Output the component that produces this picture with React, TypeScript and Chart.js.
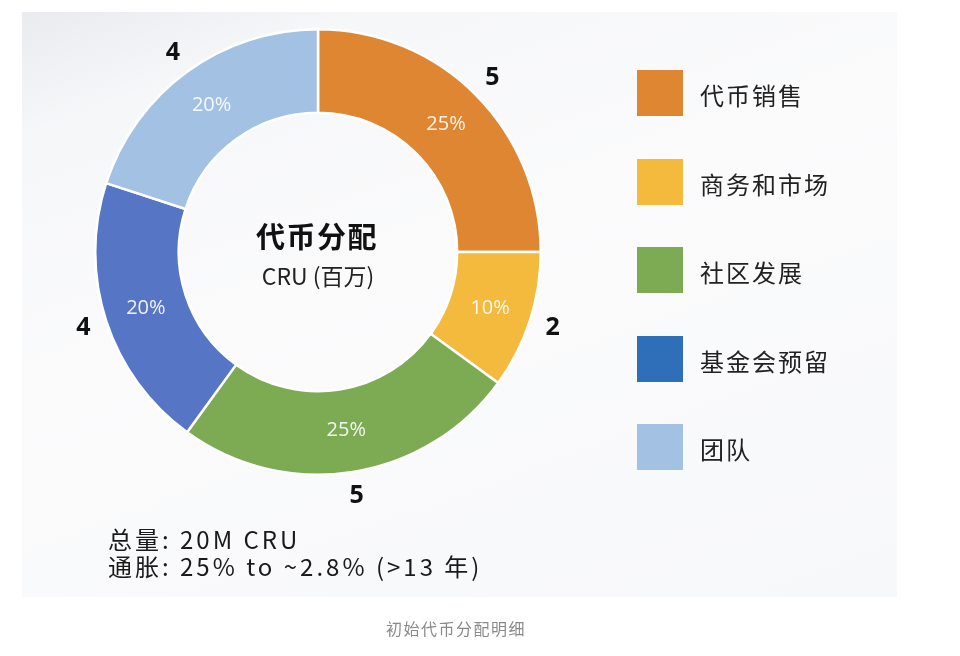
import React, { useEffect, useRef } from "react";
import { Chart, registerables } from "chart.js";

Chart.register(...registerables);

const categories = ["代币销售", "商务和市场", "社区发展", "基金会预留", "团队"];
const values = [5, 2, 5, 4, 4];
const sliceColors = ["#DF8633", "#F3BA3E", "#7CAB53", "#5775C5", "#A2C1E3"];
const legendColors = ["#DF8633", "#F3BA3E", "#7CAB53", "#2F6FBA", "#A2C1E3"];
const centerTitle = "代币分配";
const centerSub = "CRU (百万)";
const noteLines = ["总量: 20M CRU", "通胀: 25% to ~2.8% (>13 年)"];
const caption = "初始代币分配明细";

const CJK = "'Noto Sans CJK SC', 'Open Sans', sans-serif";

const labelPlugin = {
  id: "sliceLabels",
  afterDatasetsDraw(chart: any) {
    const ctx = chart.ctx as CanvasRenderingContext2D;
    const meta = chart.getDatasetMeta(0);
    const data = chart.data.datasets[0].data as number[];
    const total = data.reduce((a: number, b: number) => a + b, 0);
    meta.data.forEach((arc: any, i: number) => {
      const p = arc.getProps(["x", "y", "startAngle", "endAngle", "innerRadius", "outerRadius"], true);
      const mid = (p.startAngle + p.endAngle) / 2;
      const rIn = (p.innerRadius + p.outerRadius) / 2;
      ctx.save();
      ctx.textAlign = "center";
      ctx.textBaseline = "middle";
      ctx.fillStyle = "rgba(255,255,255,0.9)";
      ctx.font = "20px 'Open Sans'";
      ctx.fillText(
        Math.round((data[i] / total) * 100) + "%",
        p.x + Math.cos(mid) * rIn,
        p.y + Math.sin(mid) * rIn
      );
      const rOut = p.outerRadius + 24;
      ctx.fillStyle = "#111111";
      ctx.font = "bold 25px 'Open Sans'";
      ctx.fillText(String(data[i]), p.x + Math.cos(mid) * rOut, p.y + Math.sin(mid) * rOut);
      ctx.restore();
    });
  },
};

export default function App() {
  const canvasRef = useRef<HTMLCanvasElement | null>(null);

  useEffect(() => {
    const canvas = canvasRef.current;
    if (!canvas) return;
    const chart = new Chart(canvas, {
      type: "doughnut",
      data: {
        labels: categories,
        datasets: [
          {
            data: values,
            backgroundColor: sliceColors,
            borderColor: "#ffffff",
            borderWidth: 2.5,
            hoverOffset: 0,
          },
        ],
      },
      options: {
        responsive: false,
        animation: false,
        cutout: "62.5%",
        layout: { padding: { left: 94, right: 418, top: 28, bottom: 180 } },
        plugins: {
          legend: { display: false },
          tooltip: { enabled: false },
        },
      },
      plugins: [labelPlugin],
    });
    return () => chart.destroy();
  }, []);

  const legendTop0 = 70;
  const legendStep = 88.5;

  return (
    <div style={{ position: "absolute", left: 0, top: 0, width: 960, height: 656, background: "#ffffff", overflow: "hidden" }}>
      <div
        style={{
          position: "absolute",
          left: 22,
          top: 12,
          width: 875,
          height: 585,
          background: "linear-gradient(160deg, #e9ebee 0%, #f6f7f9 14%, #fbfbfc 45%, #f7f8fa 100%)",
        }}
      />
      <canvas ref={canvasRef} width={960} height={656} style={{ position: "absolute", left: 0, top: 0, width: 960, height: 656 }} />

      <div
        style={{
          position: "absolute",
          left: 317,
          top: 235,
          transform: "translate(-50%, -50%)",
          font: `700 29px ${CJK}`,
          letterSpacing: "1.5px",
          color: "#111",
          whiteSpace: "nowrap",
          lineHeight: 1,
        }}
      >
        {centerTitle}
      </div>
      <div
        style={{
          position: "absolute",
          left: 318,
          top: 275,
          transform: "translate(-50%, -50%)",
          font: `400 23px ${CJK}`,
          color: "#222",
          whiteSpace: "nowrap",
          lineHeight: 1,
        }}
      >
        {centerSub}
      </div>

      {categories.map((c, i) => {
        const top = legendTop0 + i * legendStep;
        return (
          <React.Fragment key={c}>
            <div style={{ position: "absolute", left: 637, top, width: 46, height: 46, background: legendColors[i] }} />
            <div
              style={{
                position: "absolute",
                left: 700,
                top: top + 25,
                transform: "translateY(-50%)",
                font: `400 24px ${CJK}`,
                letterSpacing: "2px",
                color: "#222",
                whiteSpace: "nowrap",
                lineHeight: 1,
              }}
            >
              {c}
            </div>
          </React.Fragment>
        );
      })}

      {noteLines.map((t, i) => (
        <div
          key={t}
          style={{
            position: "absolute",
            left: 108,
            top: 539 + i * 27,
            transform: "translateY(-50%)",
            font: `400 24px ${CJK}`,
            letterSpacing: "3px",
            color: "#1a1a1a",
            whiteSpace: "nowrap",
            lineHeight: 1,
          }}
        >
          {t}
        </div>
      ))}

      <div
        style={{
          position: "absolute",
          left: 456,
          top: 628,
          transform: "translate(-50%, -50%)",
          font: `400 16px ${CJK}`,
          letterSpacing: "1.5px",
          color: "#8a8a8a",
          whiteSpace: "nowrap",
          lineHeight: 1,
        }}
      >
        {caption}
      </div>
    </div>
  );
}
